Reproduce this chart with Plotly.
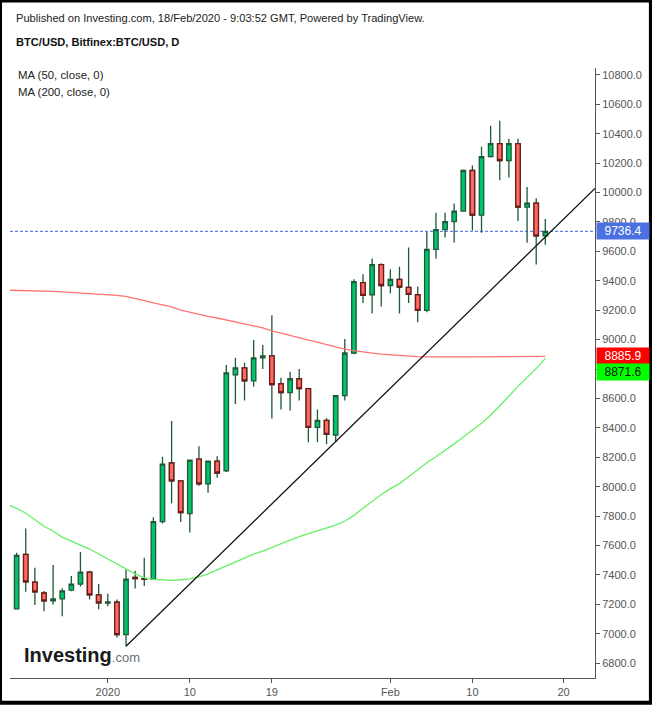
import pandas as pd
import plotly.graph_objects as go

# ---------------- data ----------------
dates = pd.date_range("2019-12-22", "2020-02-18", freq="D")
opens = [7169, 7540, 7351, 7277, 7223, 7237, 7297, 7338, 7419, 7264,
         7208, 7214, 6994, 7383, 7375, 7370, 7763, 8161, 8039, 7817,
         8188, 8019, 8174, 8107, 8761, 8808, 8720, 8876, 8889, 8700,
         8640, 8734, 8667, 8403, 8451, 8350, 8619, 8909, 9388, 9305,
         9510, 9368, 9409, 9355, 9305, 9199, 9613, 9748, 9802, 9874,
         10150, 9847, 10245, 10333, 10218, 10333, 9901, 9928, 9705]
highs = [7551, 7716, 7448, 7291, 7468, 7310, 7392, 7556, 7428, 7338,
         7272, 7232, 7439, 7428, 7517, 7792, 8203, 8446, 8039, 8185,
         8275, 8174, 8207, 8828, 8876, 8842, 8997, 8963, 9166, 8741,
         8781, 8801, 8667, 8525, 8465, 8619, 9004, 9410, 9444, 9552,
         9519, 9478, 9496, 9626, 9361, 9732, 9862, 9862, 9925, 10157,
         10184, 10312, 10454, 10488, 10366, 10366, 10038, 9962, 9820]
lows = [7169, 7286, 7196, 7153, 7198, 7119, 7289, 7322, 7232, 7166,
        7187, 6974, 6915, 7308, 7324, 7365, 7749, 7888, 7760, 7689,
        8006, 7958, 8060, 8100, 8563, 8586, 8680, 8801, 8464, 8525,
        8518, 8586, 8302, 8302, 8289, 8302, 8586, 8900, 9249, 9177,
        9226, 9316, 9177, 9249, 9118, 9186, 9550, 9694, 9660, 9870,
        9743, 9726, 10238, 10083, 10103, 9806, 9658, 9510, 9645]
closes = [7533, 7353, 7284, 7223, 7237, 7291, 7338, 7419, 7264, 7210,
          7216, 6994, 7372, 7375, 7370, 7763, 8154, 8039, 7823, 8181,
          8019, 8174, 8093, 8774, 8808, 8720, 8876, 8889, 8694, 8640,
          8734, 8667, 8403, 8451, 8356, 8619, 8909, 9395, 9301, 9510,
          9368, 9409, 9357, 9307, 9199, 9613, 9748, 9802, 9874, 10150,
          9847, 10245, 10333, 10218, 10333, 9901, 9928, 9705, 9736.4]

ma_dates = pd.date_range("2019-12-21", "2020-02-18", freq="D")
ma50 = [7879, 7853, 7819, 7778, 7731, 7697, 7657, 7630, 7603, 7576, 7542,
        7508, 7475, 7441, 7407, 7380, 7370, 7367, 7363, 7367, 7373,
        7387, 7407, 7434, 7461, 7488, 7515, 7542, 7562, 7585,
        7610, 7636, 7660, 7680, 7697, 7717, 7738, 7765, 7805, 7853, 7900, 7947,
        7987, 8021, 8068, 8116, 8163, 8203, 8244, 8291, 8338, 8385,
        8432, 8486, 8547, 8615, 8682, 8743, 8803, 8871.6]
ma200 = [9336, 9335, 9333, 9331, 9330, 9328, 9324, 9321, 9317, 9314, 9311,
         9306, 9301, 9294, 9282, 9265, 9250, 9235, 9222, 9201, 9185,
         9171, 9158, 9147, 9134, 9120, 9107, 9097, 9080, 9060,
         9044, 9029, 9013, 8994, 8981, 8965, 8949, 8935, 8925, 8915, 8908, 8901,
         8896, 8891, 8888, 8884, 8883, 8882, 8882, 8882, 8883, 8883,
         8884, 8884, 8885, 8886, 8886, 8885, 8886, 8885.9]

trend_dates = ["2020-01-03", "2020-02-23 10:48"]
trend_values = [6915, 10028]

x_tickvals = ["2020-01-01", "2020-01-10", "2020-01-19", "2020-02-01", "2020-02-10", "2020-02-20"]
x_ticktext = ["2020", "10", "19", "Feb", "10", "20"]
y_tickvals = list(range(6800, 10801, 200))
# the 8800 label is hidden behind the MA price tags in the original
y_ticktext = ["" if v == 8800 else f"{v:.1f}" for v in y_tickvals]

# ---------------- styles ----------------
GREEN_FILL = "#00c46b"
RED_FILL = "#ff6a60"
WICK = "#1c5a38"
RED_EDGE = "#6e1a1a"
MA50_COLOR = "#66f066"
MA200_COLOR = "#ff7373"
FONT = "Liberation Sans, Arial, sans-serif"

W, H = 652, 708
ML, MR, MT, MB = 10, 56, 68, 25
PW, PH = W - ML - MR, H - MT - MB


def px(xp):
    return (xp - ML) / PW


def py(yp):
    return (H - MB - yp) / PH


fig = go.Figure()

fig.add_trace(go.Scatter(x=list(ma_dates), y=ma200, mode="lines",
                         line=dict(color=MA200_COLOR, width=1.3), hoverinfo="skip"))
fig.add_trace(go.Scatter(x=list(ma_dates), y=ma50, mode="lines",
                         line=dict(color=MA50_COLOR, width=1.3), hoverinfo="skip"))
fig.add_trace(go.Scatter(x=trend_dates, y=trend_values, mode="lines",
                         line=dict(color="#111111", width=1.3), hoverinfo="skip"))

# all candles: wicks + bodies (dark green outline)
fig.add_trace(go.Candlestick(
    x=list(dates), open=opens, high=highs, low=lows, close=closes,
    increasing=dict(line=dict(color=WICK, width=1.3), fillcolor=GREEN_FILL),
    decreasing=dict(line=dict(color=WICK, width=1.3), fillcolor=RED_FILL),
    whiskerwidth=0, hoverinfo="skip"))

# red bodies re-drawn with dark red outline
red_idx = [i for i in range(len(dates)) if closes[i] < opens[i]]
fig.add_trace(go.Candlestick(
    x=[dates[i] for i in red_idx],
    open=[opens[i] for i in red_idx],
    high=[opens[i] for i in red_idx],
    low=[closes[i] for i in red_idx],
    close=[closes[i] for i in red_idx],
    increasing=dict(line=dict(color=RED_EDGE, width=1.3), fillcolor=RED_FILL),
    decreasing=dict(line=dict(color=RED_EDGE, width=1.3), fillcolor=RED_FILL),
    whiskerwidth=0, hoverinfo="skip"))

last_close = closes[-1]

shapes = [
    dict(type="line", xref="paper", yref="y", x0=0, x1=1, y0=last_close, y1=last_close,
         line=dict(color="#3f66dd", width=1, dash="3px,2px"), layer="below"),
    # outer frame around the whole image
    dict(type="rect", xref="paper", yref="paper",
         x0=px(0), x1=px(W), y0=py(H), y1=py(0),
         line=dict(color="#000000", width=4), fillcolor="rgba(0,0,0,0)"),
]

annotations = [
    dict(xref="paper", yref="paper", x=px(14), y=py(18), xanchor="left", yanchor="middle",
         text="Published on Investing.com, 18/Feb/2020 - 9:03:52 GMT, Powered by TradingView.",
         showarrow=False, font=dict(family=FONT, size=11.1, color="#222222")),
    dict(xref="paper", yref="paper", x=px(14), y=py(42), xanchor="left", yanchor="middle",
         text="<b>BTC/USD, Bitfinex:BTC/USD, D</b>",
         showarrow=False, font=dict(family=FONT, size=11.1, color="#111111")),
    dict(xref="paper", yref="paper", x=px(16), y=py(75), xanchor="left", yanchor="middle",
         text="MA (50, close, 0)", showarrow=False, font=dict(family=FONT, size=11.4, color="#222222")),
    dict(xref="paper", yref="paper", x=px(16), y=py(92), xanchor="left", yanchor="middle",
         text="MA (200, close, 0)", showarrow=False, font=dict(family=FONT, size=11.4, color="#222222")),
    dict(xref="paper", yref="paper", x=px(22), y=py(660), xanchor="left", yanchor="middle",
         text="<b>Investing</b><span style='font-size:13px;color:#6d6d6d'>.com</span>",
         showarrow=False, font=dict(family=FONT, size=20, color="#1a1a1a")),
    # price labels on the right axis
    dict(xref="paper", yref="y", x=1, y=last_close, xanchor="left", yanchor="middle", xshift=1,
         text=f"{last_close:.1f}", showarrow=False, bgcolor="#4a70e2", width=50, height=14, borderpad=1,
         font=dict(family=FONT, size=12, color="#ffffff")),
    dict(xref="paper", yref="y", x=1, y=ma200[-1], xanchor="left", yanchor="middle", xshift=1,
         text=f"{ma200[-1]:.1f}", showarrow=False, bgcolor="#ff0000", width=50, height=14, borderpad=1,
         font=dict(family=FONT, size=12, color="#ffffff")),
    dict(xref="paper", yref="y", x=1, y=ma50[-1], xanchor="left", yanchor="middle", xshift=1, yshift=-13,
         text=f"{ma50[-1]:.1f}", showarrow=False, bgcolor="#00ff00", width=50, height=14, borderpad=1,
         font=dict(family=FONT, size=12, color="#111111")),
]

fig.update_layout(
    width=W, height=H,
    margin=dict(l=ML, r=MR, t=MT, b=MB, pad=0),
    paper_bgcolor="white", plot_bgcolor="white",
    showlegend=False,
    font=dict(family=FONT, size=11, color="#555555"),
    shapes=shapes, annotations=annotations,
    xaxis=dict(type="date", range=["2019-12-21 06:30", "2020-02-23 10:48"],
               rangeslider=dict(visible=False), showgrid=False, zeroline=False,
               showline=True, linecolor="#555555", linewidth=1,
               ticks="outside", ticklen=4, tickcolor="#555555",
               tickvals=x_tickvals, ticktext=x_ticktext,
               tickfont=dict(family=FONT, size=11, color="#555555")),
    yaxis=dict(side="right", range=[6699, 10847], showgrid=False, zeroline=False,
               showline=True, linecolor="#555555", linewidth=1,
               ticks="outside", ticklen=4, tickcolor="#555555",
               tickvals=y_tickvals, ticktext=y_ticktext,
               tickfont=dict(family=FONT, size=11, color="#555555")),
)

fig.write_html("out.html")
